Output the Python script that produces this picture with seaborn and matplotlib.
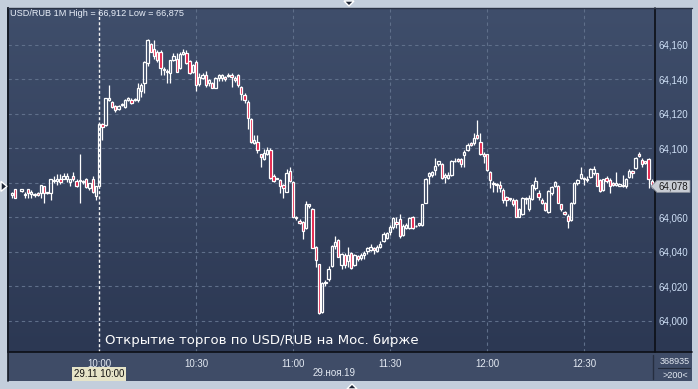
import numpy as np
import pandas as pd
import matplotlib
matplotlib.use("Agg")
import matplotlib.pyplot as plt
import seaborn as sns
from matplotlib.colors import LinearSegmentedColormap
from matplotlib.patches import Polygon, Rectangle
from matplotlib.lines import Line2D
from matplotlib.transforms import IdentityTransform

nan = float("nan")

# ---------------- data (1-minute USD/RUB candles, 29.11.2019) ----------------
session_date = "2019-11-29"
first_bar = "09:33"
price_base = 64.000          # values below are in points of 0.001 above the base
point = 0.001

open_pts = [
    73, 76.5, nan, 75.5, 73, 76.5, 73.5, 73, 74, 74, 78.5, 74, 74, 81, 81, 82, 82, 82.5, 80.5, 84,
    81, 81.5, 80.5, 82, 77, 82, 72.5,
    78, 114, 113.5, 128, 127, 124.5, 123, 125, 124, 128, 128, 128, 128, 133.5, 138, 149.5, 160.5,
    157.5, 156, 156, 146, 145, 143.5, 151.5, 152, 146.5, 155, 155.5, 150.5, 144.5, 150, 137.5, 141, 142.5,
    138, 138, 135, 141, 141, 141.5, 142, 142.5, 141, 142.5, 135.5, 131, 127, 117, 103, 104, 96.5, 94,
    96.5, 99, 84, 83, 81.5, 79, 75, 87, 80.5, 60, 58, 57.5, 54, 66.5, 65, 43, 33, 5, 22,
    24.5, 32, 43.5, 47, 32.5, 38.5, 34.5, 39.5, 32.5, 37.5, 36.5, 38, 40.5, 41, 42.5, 40.5, 43, 46.5,
    48, 51.5, 54.5, 57.5, 59, 50, 54, 54, 60, 55, 55.5, 55.5, 68.5, 84, 84.5, 87.5, 91, 91, 83.5, 83,
    84.5, 92.5, 94, 94, 96, 99, 103, 103, 107.5, 104, 96.5, 96.5, 86.5,
    80, 79, 79, 76, 72, 71, 70, 70, 60, 62, 70.5, 65, 70.5, 77, 74, 70, 68.5, 63, 74, 78, 78.5, 67.5,
    63, 61, 58.5, 68.5, 80, 83, 83, 82, 83.5, 85.5, 86, 81.5, 76, 83, 81.5, 80, 79, 78.5, 79, 78.5,
    83.5, 87, 88.5, 96.5, 93.5, 92.5, 94, 81,
]
high_pts = [
    74.5, 76.5, nan, 76.5, 74.5, 76.5, 76, 74, 74.5, 79, 78.5, 74.5, 82.5, 84, 85, 85, 85.5, 85.5, 82,
    86.5, 82, 96.5, 81.5, 83, 80, 84, 78.5,
    114.5, 114.5, 129.5, 137, 127.5, 125, 125, 126.5, 128.5, 130, 129, 129, 138, 138, 150.5, 163.5,
    161, 163, 157, 157, 147, 146, 151, 155.5, 155.5, 156, 157.5, 157, 151, 149, 151, 143.5, 144, 145,
    140, 138.5, 141.5, 143, 143, 142, 143.5, 144, 142, 143, 136, 132, 128, 117.5, 108, 107.5, 97,
    99.5, 101, 100.5, 85, 83, 82, 79.5, 88, 89, 81, 61, 59, 58, 69.5, 68, 65.5, 43.5, 33, 22.5, 24,
    32, 44, 49.5, 47.5, 39.5, 39.5, 43, 40, 39, 38, 39.5, 40.5, 43, 44.5, 43, 44, 46.5, 51.5, 51.5,
    55.5, 60.5, 60.5, 62, 56, 57, 60.5, 61, 55.5, 57, 68, 83, 86.5, 87, 94.5, 93, 91.5, 86, 86.5,
    93.5, 94.5, 94.5, 94.5, 99, 103, 103.5, 109, 116.5, 109, 98, 97, 87,
    81, 80, 81, 77, 72.5, 71.5, 71, 70.5, 65.5, 72, 72, 73, 79.5, 83.5, 76, 71, 69, 76, 78, 81, 79,
    68, 64, 62, 69, 80.5, 82.5, 89.5, 83.5, 84, 88.5, 90, 86, 82, 82.5, 84, 83, 80.5, 86.5, 80, 84.5,
    83, 88, 87.5, 95, 98, 94.5, 93, 94.5, 82,
]
low_pts = [
    71, 71, nan, 75, 71, 71.5, 71, 72, 72.5, 71, 68.5, 73.5, 70, 80, 79, 79.5, 82, 80.5, 78, 81,
    77.5, 68.5, 79.5, 77, 76, 74, 70,
    78, 105, 113, 127.5, 123.5, 121, 122.5, 124.5, 123.5, 127.5, 125.5, 127.5, 127, 130, 132, 148,
    156, 152, 150, 142.5, 142.5, 138, 138, 150.5, 144.5, 146, 154, 149, 143, 144, 133.5, 136, 140, 135.5,
    136, 135, 135, 139, 139, 139, 141.5, 135.5, 138.5, 135.5, 128, 126.5, 111.5, 103, 102.5, 97.5,
    89, 93.5, 96, 82.5, 80.5, 82.5, 74, 71.5, 75, 80.5, 60, 58.5, 56, 47.5, 53.5, 65.5, 42, 31, 4,
    4.5, 20.5,
    23, 31, 41.5, 37, 30, 30.5, 31.5, 30, 32, 35, 35.5, 36, 39, 40.5, 39, 40, 42, 46, 47.5, 50, 53.5,
    54, 48, 49, 53.5, 53.5, 53.5, 54.5, 55, 55, 68.5, 79.5, 83.5, 84.5, 90, 82.5, 80, 82.5, 84, 92,
    92, 89, 89.5, 98.5, 101.5, 102, 105.5, 96, 91.5, 87, 77,
    75, 75, 74.5, 68.5, 66.5, 69.5, 66.5, 60, 60, 61.5, 67.5, 64, 70, 76, 70, 68, 63.5, 62.5, 73,
    77.5, 68.5, 64, 61.5, 54, 58, 67.5, 79, 82, 79, 80.5, 83, 84.5, 78, 75, 75.5, 80, 74, 78.5, 78,
    78, 77.5, 77, 83, 83, 88, 95, 89.5, 91, 77, 77,
]
close_pts = [
    74, 71.5, nan, 76.5, 73.5, 74, 75, 73.5, 73, 79, 74, 74.5, 82, 81.5, 82, 80.5, 84, 84, 82, 82,
    78, 81, 81, 77.5, 80, 75, 78.5,
    114, 112.5, 129.5, 129.5, 124, 122.5, 124.5, 126, 128, 129, 126.5, 128.5, 135, 137, 150, 163,
    156, 153.5, 151.5, 146.5, 145.5, 144.5, 151, 153.5, 144.5, 155, 156, 149.5, 143.5, 148.5, 137,
    141.5, 142.5, 137,
    139.5, 135, 141, 142.5, 142.5, 140, 142.5, 141.5, 139.5, 137, 131.5, 128, 117.5, 103.5, 105, 99,
    95, 97.5, 99, 83, 81, 82.5, 78.5, 77, 86, 81, 60.5, 59.5, 57, 52, 67.5, 67.5, 42, 35.5, 4.5, 22, 22.5,
    30, 43.5, 45.5, 37, 39, 32.5, 38.5, 30.5, 38.5, 36, 38, 39.5, 42, 43, 41, 43, 44.5, 50.5, 51,
    54.5, 59.5, 56, 49, 55, 55.5, 59.5, 54, 55, 56.5, 67.5, 82, 85.5, 86.5, 90, 92.5, 83, 84.5, 84.5,
    93, 93, 92.5, 91, 98, 102, 102, 106, 106, 96.5, 95.5, 87.5, 81.5,
    79.5, 79, 77, 70, 70, 70.5, 68, 60, 65, 71, 71, 71, 79, 81, 72, 68.5, 64.5, 75.5, 77.5, 80.5,
    68.5, 65, 62, 58, 68.5, 80, 81.5, 85, 82.5, 81.5, 88, 88, 78.5, 75.5, 82, 81, 78.5, 79, 80, 79.5,
    78, 82, 87, 85.5, 94.5, 95.5, 91, 91.5, 82, 78,
]

ytick_values = [64.000, 64.020, 64.040, 64.060, 64.080, 64.100, 64.120, 64.140, 64.160]
# the 64,080 label sits under the last-price tag in the original, so it is not shown
ytick_labels = ["64,000", "64,020", "64,040", "64,060", "", "64,100", "64,120", "64,140", "64,160"]
xtick_times = ["10:00", "10:30", "11:00", "11:30", "12:00", "12:30"]
last_price = 64.078
last_price_label = "64,078"
title_text = "USD/RUB 1M High = 66,912 Low = 66,875"
event_time = "10:00"
event_text = "Открытие торгов по USD/RUB на Мос. бирже"
cursor_label = "29.11 10:00"
date_label = "29.ноя.19"
count_label = "368935"
zoom_label = ">200<"

# ---------------- build frame ----------------
times = pd.date_range(f"{session_date} {first_bar}", periods=len(open_pts), freq="min")
df = pd.DataFrame({
    "time": times,
    "open": price_base + np.array(open_pts) * point,
    "high": price_base + np.array(high_pts) * point,
    "low": price_base + np.array(low_pts) * point,
    "close": price_base + np.array(close_pts) * point,
}).dropna()
ref = pd.Timestamp(f"{session_date} 10:00")
df["minute"] = (df["time"] - ref).dt.total_seconds() / 60.0

# ---------------- figure ----------------
W, H = 698, 389
sns.set_theme(style="dark")
plt.rcParams["font.family"] = ["DejaVu Sans"]
SMALL = ["Liberation Sans", "DejaVu Sans"]

fig = plt.figure(figsize=(W / 100, H / 100), dpi=100, facecolor="#c3cedc")

def frect(x0, y0, x1, y1, **kw):
    fig.add_artist(Rectangle((x0 / W, 1 - y1 / H), (x1 - x0) / W, (y1 - y0) / H,
                             transform=fig.transFigure, **kw))

def fline(xs, ys, **kw):
    fig.add_artist(Line2D([x / W for x in xs], [1 - y / H for y in ys],
                          transform=fig.transFigure, **kw))

# dark panel with gradient
L, R, T, B, SEP, BOT = 8, 692, 8, 352, 655, 381
bg = fig.add_axes([L / W, 1 - B / H, (R - L) / W, (B - T) / H], zorder=0)
grad = np.linspace(0, 1, 256).reshape(-1, 1)
cmap = LinearSegmentedColormap.from_list("bg", ["#3f4e6b", "#2c3853"])
bg.imshow(grad, aspect="auto", cmap=cmap, extent=[0, 1, 0, 1], origin="upper")
bg.set_axis_off()

# bottom strip
frect(L, B, R, BOT, facecolor="#3f4c67", edgecolor="none", zorder=1)

# main chart axes
ax = fig.add_axes([L / W, 1 - B / H, (SEP - L) / W, (B - T) / H], zorder=2)
ax.patch.set_alpha(0)
ax.set_xlim(-28.2, 172.0)
ax.set_ylim(63.982, 64.1814)

grid_kw = dict(color="#5f6f8a", lw=0.8, ls=(0, (3, 3)), zorder=1)
for v in ytick_values:
    ax.axhline(v, **grid_kw)
xt = [(pd.Timestamp(f"{session_date} {t}") - ref).total_seconds() / 60 for t in xtick_times]
for v in xt[1:]:
    ax.axvline(v, **grid_kw)

ev = (pd.Timestamp(f"{session_date} {event_time}") - ref).total_seconds() / 60
ax.axvline(ev, color="#f4f4f4", lw=1.0, ls=(0, (2.2, 1.6)), zorder=2)

# candles
up = df["close"] >= df["open"]
body_lo = np.minimum(df["open"], df["close"])
body_hi = np.maximum(df["open"], df["close"])
min_h = 0.0004
body_h = np.maximum(body_hi - body_lo, min_h)
body_mid = (body_lo + body_hi) / 2
body_lo2 = body_mid - body_h / 2
body_hi2 = body_mid + body_h / 2
ax.vlines(df["minute"], df["low"], body_lo2, color="white", lw=0.9, zorder=3)
ax.vlines(df["minute"], body_hi2, df["high"], color="white", lw=0.9, zorder=3)
ax.bar(df["minute"][up], body_h[up], bottom=body_lo2[up], width=0.72,
       facecolor="none", edgecolor="white", linewidth=0.9, zorder=4)
ax.bar(df["minute"][~up], body_h[~up], bottom=body_lo2[~up], width=0.72,
       facecolor="#e3133d", edgecolor="white", linewidth=0.9, zorder=4)

# axes styling
for s in ["top", "right", "bottom"]:
    ax.spines[s].set_visible(False)
ax.spines["left"].set_color("#141a26")
ax.spines["left"].set_linewidth(1.2)
ax.set_yticks(ytick_values)
ax.set_yticklabels(ytick_labels, family=SMALL)
ax.set_xticks(xt)
ax.set_xticklabels(xtick_times, family=SMALL)
ax.yaxis.tick_right()
ax.tick_params(axis="y", which="both", left=False, right=False, length=0, pad=2.2,
               labelsize=7.0, labelcolor="#cfe0f6")
ax.tick_params(axis="x", which="both", bottom=False, length=0, pad=4.8,
               labelsize=7.0, labelcolor="#e3e9f2")
ax.grid(False)

# separators
fline([L, R], [B, B], color="#0c0f16", lw=1.2, zorder=5)
fline([SEP, SEP], [T, B], color="#0c0f16", lw=1.2, zorder=5)
fline([653, 653], [355, 379], color="#262e40", lw=1.0, zorder=5)
fline([L, L], [T, BOT], color="#141a26", lw=1.2, zorder=5)
fline([L, R], [T, T], color="#2a3346", lw=1.0, zorder=5)
fline([658, 690], [367.5, 367.5], color="#222a3b", lw=0.8, zorder=5)

# texts
fig.text(10 / W, 1 - 14 / H, title_text, fontsize=6.6, family=SMALL, color="#e8eef8",
         va="center", ha="left", zorder=6)
fig.text(105 / W, 1 - 340 / H, event_text, fontsize=9.5, color="white", va="center", ha="left", zorder=6)
fig.text(99 / W, 1 - 374 / H, cursor_label, fontsize=7.0, family=SMALL, color="#111111",
         va="center", ha="center", zorder=6,
         bbox=dict(boxstyle="square,pad=0.2", fc="#e6e4c8", ec="none"))
fig.text(334 / W, 1 - 373 / H, date_label, fontsize=7.0, family=SMALL, color="#e3e9f2",
         va="center", ha="center", zorder=6)
fig.text(675 / W, 1 - 361 / H, count_label, fontsize=6.5, family=SMALL, color="#e3e9f2",
         va="center", ha="center", zorder=6)
fig.text(675 / W, 1 - 375 / H, zoom_label, fontsize=6.5, family=SMALL, color="#e3e9f2",
         va="center", ha="center", zorder=6)

# last price tag (y from the data scale)
fig.canvas.draw()
py = ax.transData.transform((0, last_price))[1]
tag = Polygon([(651, py), (657, py + 6), (690, py + 6), (690, py - 6), (657, py - 6)],
              closed=True, transform=IdentityTransform(), facecolor="#c9cdd4",
              edgecolor="#8a909c", lw=0.6, zorder=7)
fig.add_artist(tag)
fig.text(673.5 / W, py / H, last_price_label, fontsize=7.0, family=SMALL, color="#1a1a1a",
         va="center", ha="center", zorder=8)

# small markers
fig.add_artist(Polygon([(1 / W, (py + 5) / H), (7 / W, py / H), (1 / W, (py - 5) / H)],
                       closed=True, transform=fig.transFigure, facecolor="#1e2636", zorder=7))
fig.add_artist(Polygon([(344 / W, 1 - 1 / H), (354 / W, 1 - 1 / H), (349 / W, 1 - 6 / H)],
                       closed=True, transform=fig.transFigure, facecolor="#1e2636", zorder=7))
fig.add_artist(Polygon([(347 / W, 1 - 389 / H), (357 / W, 1 - 389 / H), (352 / W, 1 - 384 / H)],
                       closed=True, transform=fig.transFigure, facecolor="#1e2636", zorder=7))

fig.savefig("out.png", dpi=100, facecolor=fig.get_facecolor())
